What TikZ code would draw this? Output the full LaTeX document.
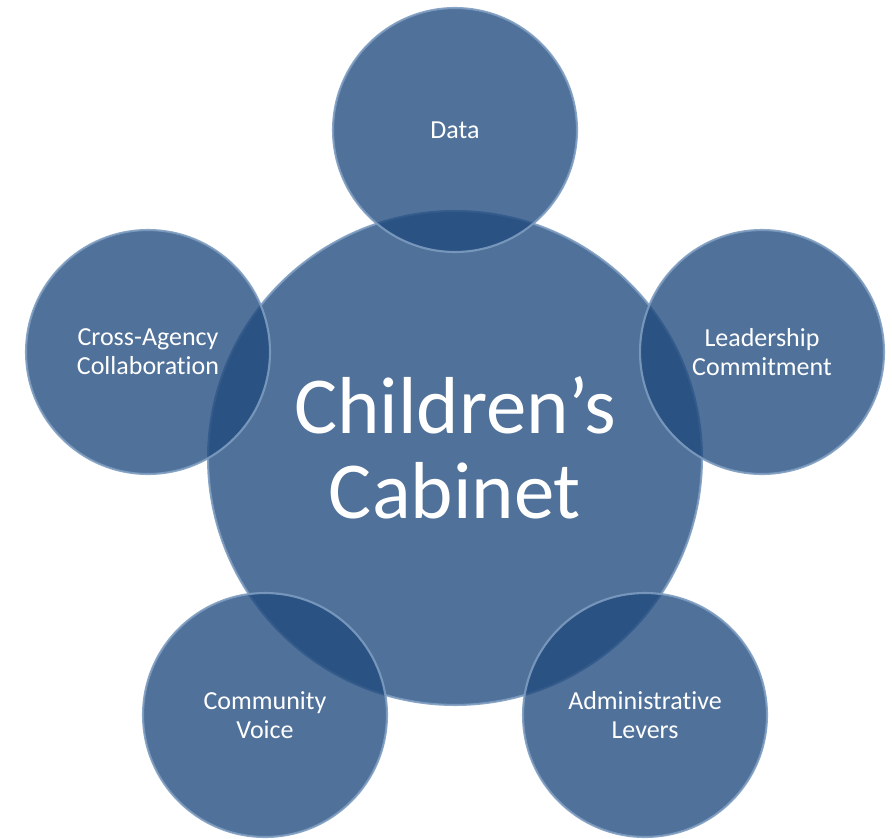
\documentclass[tikz,border=0pt]{standalone}
\usepackage{fontspec}
\setmainfont{Carlito}[Ligatures={TeX,NoCommon}]
\definecolor{cabblue}{HTML}{1F497D}
\definecolor{cabedge}{HTML}{7D9CC0}
\tikzset{bubble/.style={circle, fill=cabblue, fill opacity=0.78, draw=cabedge,
            draw opacity=0.9, line width=1.2pt, text=white, text opacity=1,
            align=center, inner sep=0pt},
         small/.style={bubble, minimum size=4.88cm, font=\fontsize{14.8}{16.5}\selectfont},
         big/.style={bubble, minimum size=9.88cm},
         bigtext/.style={text=white, align=center, font=\fontsize{46}{48.4}\selectfont}
}

\begin{document}
\begin{tikzpicture}[x=0.02cm,y=-0.02cm]
\useasboundingbox (0,0) rectangle (892,838);

% centre
\node[big] (cabinet) at (455,458) {};
\node[bigtext] (title) at ([yshift=6pt]cabinet.center) {Children’s\\Cabinet};

% the five around it
\node[small] (data) at (455,130) {Data};
\node[small] (leader) at (762,352) {Leadership\\Commitment};
\node[small] (cross) at (148,352) {Cross-Agency\\Collaboration};
\node[small] (voice) at (265,715) {Community\\Voice};
\node[small] (levers) at (645,715) {Administrative\\Levers};

\end{tikzpicture}
\end{document}
